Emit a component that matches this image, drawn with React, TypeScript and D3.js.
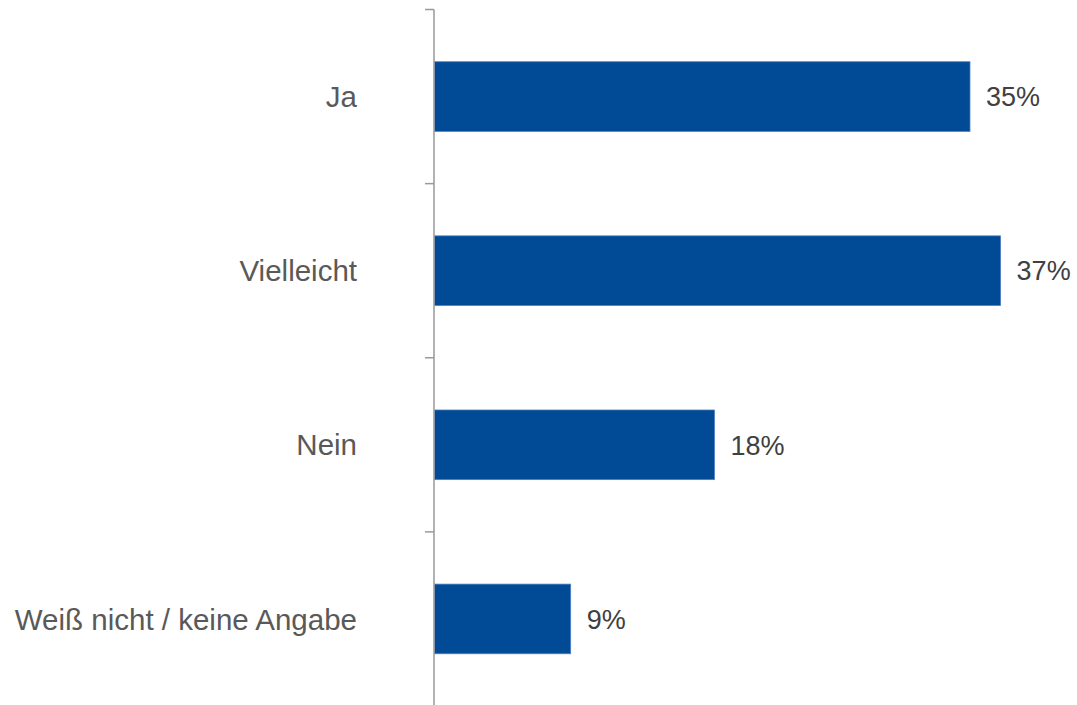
import React from "react";
import * as d3 from "d3";

const categories = ["Ja", "Vielleicht", "Nein", "Weiß nicht / keine Angabe"];
const values = [35, 37, 18.3, 8.9];
const valueLabels = ["35%", "37%", "18%", "9%"];

const W = 1077;
const H = 705;

export default function App() {
  const x = d3.scaleLinear().domain([0, 10]).range([434.5, 434.5 + 153]);
  const y = d3
    .scaleBand<string>()
    .domain(categories)
    .range([9.5, 706])
    .paddingInner(0.6)
    .paddingOuter(0.3);
  const bandStep = y.step();
  const tickYs = d3.range(categories.length + 1).map((i) => 9.5 + i * bandStep);
  const font = "'Liberation Sans', Arial, sans-serif";
  return (
    <svg
      width={W}
      height={H}
      style={{ position: "absolute", left: 0, top: 0, background: "#fff" }}
    >
      {categories.map((c, i) => {
        const by = y(c) as number;
        const bh = y.bandwidth();
        return (
          <g key={c}>
            <rect
              x={x(0)}
              y={by}
              width={x(values[i]) - x(0)}
              height={bh}
              fill="#004A96"
              stroke="#4F7FBF"
              strokeWidth={0.8}
            />
            <text
              x={357}
              y={by + bh / 2}
              dy="0.36em"
              textAnchor="end"
              fontFamily={font}
              fontSize={29.5}
              fill="#595959"
            >
              {c}
            </text>
            <text
              x={x(values[i]) + 16}
              y={by + bh / 2}
              dy="0.36em"
              textAnchor="start"
              fontFamily={font}
              fontSize={27}
              fill="#404040"
            >
              {valueLabels[i]}
            </text>
          </g>
        );
      })}
      <line x1={434} x2={434} y1={9.5} y2={H} stroke="#999" strokeWidth={1.5} />
      {tickYs.map((t, i) => (
        <line key={i} x1={425} x2={434} y1={t} y2={t} stroke="#999" strokeWidth={1.5} />
      ))}
    </svg>
  );
}
